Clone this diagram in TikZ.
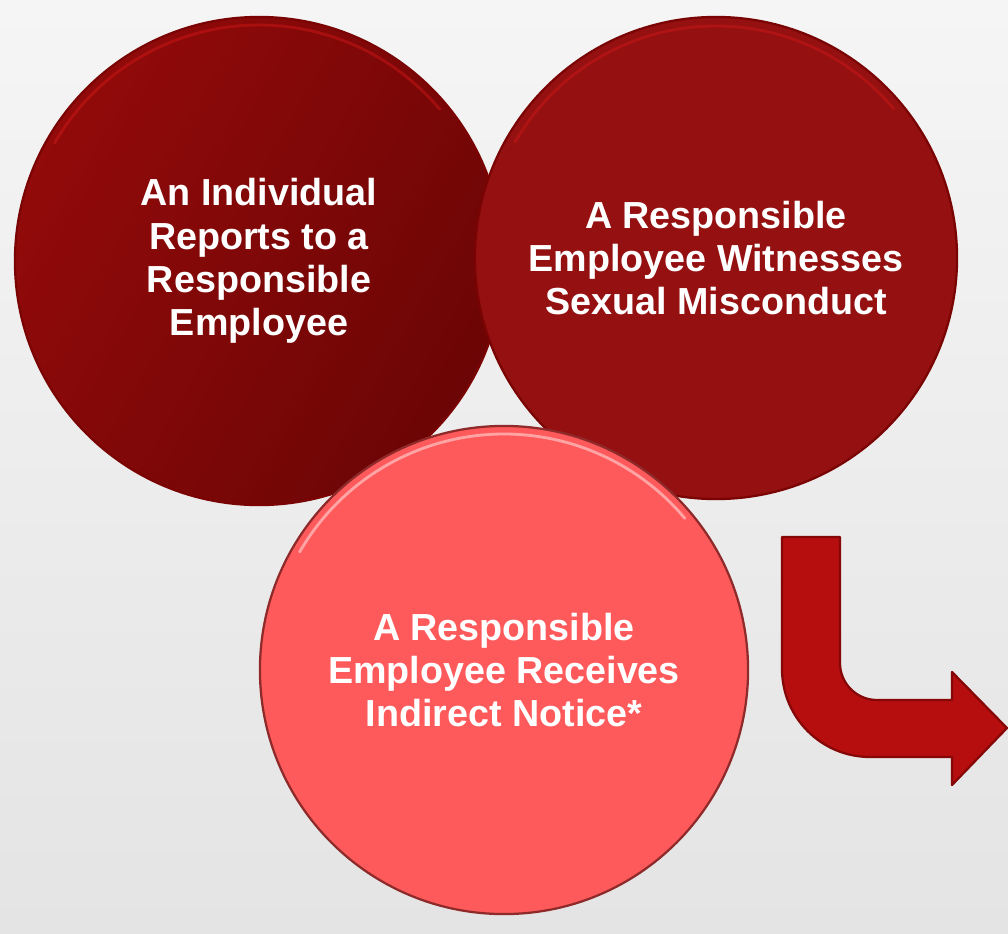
\documentclass[tikz,border=0pt]{standalone}
\usepackage{fontspec}
\setmainfont{Liberation Sans}
\usepackage{xcolor}
\usepackage{tikz}
\definecolor{bgtop}{HTML}{F5F5F5}
\definecolor{bgbot}{HTML}{E4E4E4}
\definecolor{reportA}{HTML}{920A0A}
\definecolor{reportB}{HTML}{6C0505}
\definecolor{witness}{HTML}{941011}
\definecolor{notice}{HTML}{FF5A5B}
\definecolor{rimdark}{HTML}{7A0404}
\definecolor{rimlight}{HTML}{D41818}
\definecolor{arrowfill}{HTML}{B60E0F}
\definecolor{arrowedge}{HTML}{860707}
\tikzset{
    bubble/.style={circle, minimum size=12.2cm, inner sep=0pt, align=center, text=white, font=\fontsize{26.8}{30.8}\selectfont\bfseries, draw=rimdark, line width=1.6pt},
    shine/.style={line width=2pt, line cap=round, draw opacity=0.45},
    bentarrow/.style={fill=arrowfill, draw=arrowedge, line width=1.6pt, line join=round}
}

\begin{document}
\begin{tikzpicture}[x=0.025cm, y=-0.025cm]
  % page and background (y runs downwards, so angles are mirrored)
  \useasboundingbox (0,0) rectangle (1008,934);
  \shade[top color=bgtop, bottom color=bgbot] (0,0) rectangle (1008,934);

  % the three ways
  \node[bubble, shading=axis, left color=reportA, right color=reportB, shading angle=60] (report) at (259,261) {An Individual\\Reports to a\\Responsible\\Employee};
  \draw[shine, rimlight] (report.center) ++(-150:236) arc (-150:-40:236);

  \node[bubble, fill=witness, minimum size=12.05cm] (witness) at (716,258) {A Responsible\\Employee Witnesses\\Sexual Misconduct};
  \draw[shine, rimlight] (witness.center) ++(-150:232) arc (-150:-40:232);

  \node[bubble, fill=notice, draw=rimdark!85] (notice) at (504,670) {A Responsible\\Employee Receives\\Indirect Notice*};
  \draw[shine, white] (notice.center) ++(-150:236) arc (-150:-40:236);

  % bent arrow on the right
  \draw[bentarrow] (782,537) -- (840,537) -- (840,663) arc (180:90:37)
    -- (952,700) -- (952,672) -- (1007,728) -- (952,785) -- (952,757)
    -- (870,757) arc (90:180:88) -- cycle;
\end{tikzpicture}
\end{document}
